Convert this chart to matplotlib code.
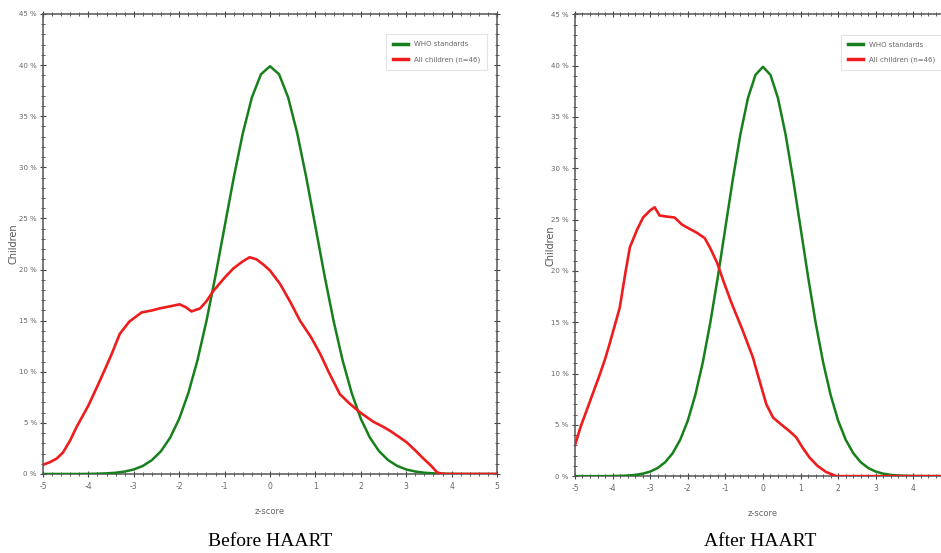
import matplotlib.pyplot as plt
from matplotlib.ticker import MultipleLocator, FuncFormatter

# WHO reference curve (standard z-score density, % of children)
who_z = [-5.0, -4.8, -4.6, -4.4, -4.2, -4.0, -3.8, -3.6, -3.4, -3.2, -3.0,
         -2.8, -2.6, -2.4, -2.2, -2.0, -1.8, -1.6, -1.4, -1.2, -1.0,
         -0.8, -0.6, -0.4, -0.2, 0.0, 0.2, 0.4, 0.6, 0.8, 1.0,
         1.2, 1.4, 1.6, 1.8, 2.0, 2.2, 2.4, 2.6, 2.8, 3.0,
         3.2, 3.4, 3.6, 3.8, 4.0, 4.2, 4.4, 4.6, 4.8, 5.0]
who_pct = [0.0, 0.0, 0.0, 0.0, 0.0, 0.01, 0.03, 0.06, 0.12, 0.24, 0.44,
           0.79, 1.36, 2.24, 3.55, 5.40, 7.90, 11.09, 14.97, 19.42, 24.20,
           28.97, 33.32, 36.83, 39.10, 39.89, 39.10, 36.83, 33.32, 28.97, 24.20,
           19.42, 14.97, 11.09, 7.90, 5.40, 3.55, 2.24, 1.36, 0.79, 0.44,
           0.24, 0.12, 0.06, 0.03, 0.01, 0.0, 0.0, 0.0, 0.0, 0.0]

# all children before HAART
before_z = [-5.0, -4.85, -4.7, -4.56, -4.4, -4.26, -4.0, -3.75, -3.5, -3.31, -3.1,
            -2.83, -2.6, -2.43, -2.2, -1.99, -1.85, -1.73, -1.54, -1.4, -1.25,
            -1.0, -0.81, -0.6, -0.45, -0.3, -0.15, 0.0, 0.22, 0.45, 0.66,
            0.9, 1.1, 1.3, 1.54, 1.75, 1.99, 2.28, 2.5, 2.65, 2.85,
            3.01, 3.2, 3.38, 3.55, 3.68, 3.82, 4.2, 5.0]
before_pct = [0.9, 1.15, 1.5, 2.1, 3.3, 4.6, 6.7, 9.1, 11.6, 13.7, 14.9,
              15.8, 16.0, 16.2, 16.4, 16.6, 16.3, 15.9, 16.2, 16.9, 17.9,
              19.2, 20.1, 20.8, 21.2, 21.0, 20.5, 19.9, 18.6, 16.8, 15.0,
              13.4, 11.8, 9.9, 7.8, 6.9, 6.0, 5.1, 4.6, 4.2, 3.6,
              3.1, 2.3, 1.5, 0.8, 0.15, 0.0, 0.0, 0.0]

# all children after HAART
after_z = [-5.0, -4.85, -4.69, -4.5, -4.34, -4.2, -4.07, -3.81, -3.65, -3.54,
           -3.35, -3.19, -3.0, -2.88, -2.75, -2.57, -2.35, -2.15, -1.95, -1.75,
           -1.55, -1.4, -1.22, -1.05, -0.85, -0.55, -0.27, -0.1, 0.09, 0.27,
           0.53, 0.7, 0.88, 1.05, 1.24, 1.45, 1.68, 1.95, 3.0, 5.0]
after_pct = [3.0, 4.8, 6.4, 8.3, 9.9, 11.4, 13.0, 16.4, 20.0, 22.3,
             24.0, 25.2, 25.9, 26.2, 25.4, 25.3, 25.2, 24.5, 24.1, 23.7,
             23.2, 22.2, 20.8, 19.0, 17.0, 14.3, 11.6, 9.4, 7.0, 5.7,
             4.9, 4.4, 3.8, 2.8, 1.8, 1.0, 0.4, 0.0, 0.0, 0.0]

panels = ["Before HAART", "After HAART"]
series_labels = ["WHO standards", "All children (n=46)"]

green = "#17801c"
red = "#ee1c1c"
plt.rcParams['font.family'] = ['DejaVu Sans']
plt.rcParams['axes.unicode_minus'] = False

fig = plt.figure(figsize=(9.41, 5.53), dpi=100)
ax1 = fig.add_axes([0.0457, 0.1429, 0.4825, 0.8318])
ax2 = fig.add_axes([0.611, 0.139, 0.3996, 0.835])

for ax, (cz, cp), title in zip([ax1, ax2], [(before_z, before_pct), (after_z, after_pct)], panels):
    ax.plot(who_z, who_pct, color=green, lw=1.8, label=series_labels[0], zorder=3)
    ax.plot(cz, cp, color=red, lw=1.9, label=series_labels[1], zorder=4)
    ax.set_xlim(-5, 5)
    ax.set_ylim(0, 45)
    ax.xaxis.set_major_locator(MultipleLocator(1))
    ax.xaxis.set_minor_locator(MultipleLocator(0.2))
    ax.yaxis.set_major_locator(MultipleLocator(5))
    ax.yaxis.set_minor_locator(MultipleLocator(1))
    ax.yaxis.set_major_formatter(FuncFormatter(lambda v, p: "%d %%" % v))
    ax.tick_params(which='both', direction='inout', top=True, right=True,
                   colors='#444444', labelcolor='#666666', labelsize=5.5, pad=3)
    ax.tick_params(axis='y', which='major', labelsize=5, pad=2)
    ax.tick_params(which='major', length=5, width=0.8)
    ax.tick_params(which='minor', length=2.5, width=0.6)
    for s in ax.spines.values():
        s.set_color('#555555')
        s.set_linewidth(1.1)
    ax.set_xlabel("z-score", fontsize=6, color='#666666', labelpad=12)
    ax.set_ylabel("Children", fontsize=7, color='#555555')
    leg = ax.legend(loc='upper right', bbox_to_anchor=(0.985, 0.963), fontsize=5,
                    frameon=True, fancybox=False, handlelength=2.2, borderpad=1.0,
                    labelspacing=1.3, handletextpad=0.8, labelcolor='#666666')
    leg.get_frame().set_edgecolor('#dddddd')
    leg.get_frame().set_linewidth(0.8)
    for h in leg.get_lines():
        h.set_linewidth(2.5)

# right plot runs past the page edge, so its last label is dropped
ax2.xaxis.set_major_formatter(FuncFormatter(lambda v, p: "" if v > 4.5 else "%d" % v))

ax1.yaxis.set_label_coords(-0.053, 0.5)
ax2.yaxis.set_label_coords(-0.053, 0.5)

# panel captions under each plot
ax1.text(0.5, -0.147, panels[0], transform=ax1.transAxes, ha='center', va='center',
         fontsize=14, family='Liberation Serif')
ax2.text(0.4926, -0.141, panels[1], transform=ax2.transAxes, ha='center', va='center',
         fontsize=14, family='Liberation Serif')

fig.savefig("out.png", dpi=100)
